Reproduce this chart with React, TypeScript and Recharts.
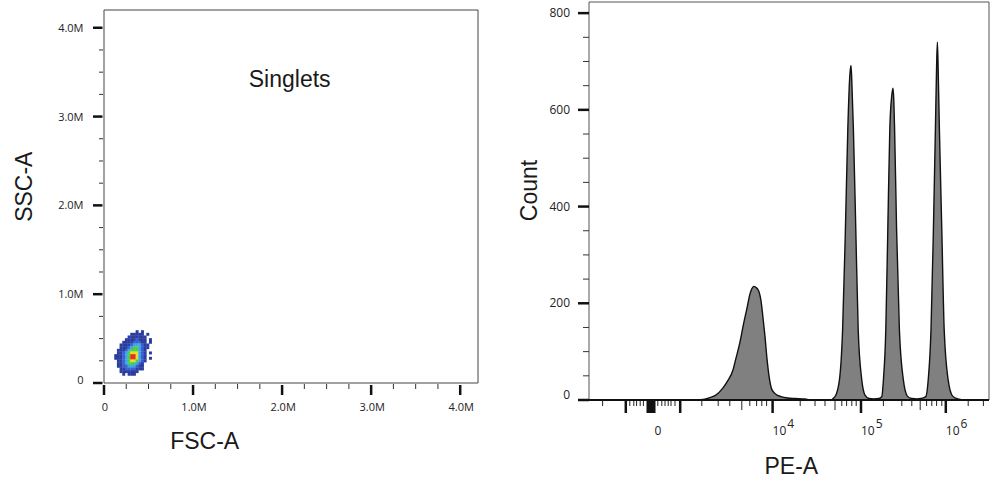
import React from 'react';
import { ScatterChart, Scatter, ComposedChart, Area, XAxis, YAxis, ReferenceArea, ReferenceLine } from 'recharts';

// ---- left panel: Singlets density (FSC-A vs SSC-A), binned every 30k ----
const DENSITY_X0 = 130000;
const DENSITY_Y_TOP = 580000;
const DENSITY_BIN = 30000;
// one string per row (top to bottom), digit = density level, '.' = empty
const DENSITY_ROWS = [
  '........1.1...',
  '......11111.1.',
  '.....1111111..',
  '....11112111.1',
  '...111122211.1',
  '..11112333211.',
  '..11123443211.',
  '.11123444321..',
  '.11234555321.1',
  '111234665321..',
  '111234665321.1',
  '.11234554321..',
  '.1123444321...',
  '.1122333211...',
  '..112222111...',
  '..1111111.....',
  '...1.111......',
];
const DENSITY_COLORS = ['', '#2b3d9e', '#3a5fd0', '#3aa6ea', '#4ccd4c', '#e6dc2a', '#e8301c'];

const SCATTER_MAX = 4200000;
const SCATTER_MAJOR = [0, 1000000, 2000000, 3000000, 4000000];
const SCATTER_LABELS = ['0', '1.0M', '2.0M', '3.0M', '4.0M'];
const SCATTER_MINOR = [
  250000, 500000, 750000, 1250000, 1500000, 1750000,
  2250000, 2500000, 2750000, 3250000, 3500000, 3750000,
];

// ---- right panel: PE-A histogram, display channels 0..1000 ----
const PE_CHANNEL = [
  0, 270, 285, 302, 317, 335, 347, 360, 367, 377, 387, 395, 402, 407, 412, 417,
  424, 430, 435, 440, 445, 450, 457, 467, 480, 497, 515, 540, 552, 602,
  615, 626, 634, 641, 647, 652, 655, 657, 661, 667, 673, 682, 690, 700, 712,
  725, 732, 736, 742, 747, 752, 757, 760, 762, 764, 769, 776, 786, 796, 807, 820,
  830, 842, 848, 855, 861, 866, 869, 871, 873, 876, 882, 888, 898, 909, 922, 940, 1000,
];
const PE_COUNT = [
  0, 0, 1, 5, 10, 25, 40, 62, 85, 118, 160, 190, 218, 230, 235, 233,
  226, 205, 170, 131, 85, 50, 22, 12, 7, 4, 3, 2, 0, 0,
  7, 41, 145, 352, 560, 670, 692, 660, 560, 352, 145, 41, 10, 3, 2,
  3, 7, 41, 145, 352, 560, 630, 645, 620, 560, 352, 145, 41, 8, 3, 2,
  3, 7, 41, 145, 352, 560, 690, 740, 680, 560, 352, 145, 41, 8, 2, 0, 0,
];
const PE_MAX = 1000;
const PE_MAJOR_TICKS = [92, 155, 228, 459, 680, 892];
const PE_TICK_LABELS = ['', '0', '', '10^4', '10^5', '10^6'];
const PE_MID_TICKS = [382, 615, 828];
const PE_MINOR_TICKS = [
  34, 102, 112, 119, 128, 136, 172, 182, 190, 198, 205, 215,
  282, 323, 352, 402, 419, 432, 444,
  528, 565, 590, 632, 644, 657, 668,
  736, 782, 807, 844, 857, 869, 882,
  948, 986,
];

const COUNT_MAX = 823;
const COUNT_MAJOR = [0, 200, 400, 600, 800];
const COUNT_MINOR = [50, 100, 150, 250, 300, 350, 450, 500, 550, 650, 700, 750];

const TICK_FONT = '"Open Sans", "DejaVu Sans", sans-serif';
const TITLE_FONT = '"Liberation Sans", Arial, sans-serif';

// layout
const L_W = 500;
const L_H = 482;
const L_MARGIN = { top: 10, right: 22, bottom: 0, left: 0 };
const L_YAXIS_W = 104;
const L_XAXIS_H = 99;
const L_PLOT_W = L_W - L_MARGIN.left - L_MARGIN.right - L_YAXIS_W;
const L_PLOT_H = L_H - L_MARGIN.top - L_XAXIS_H;

const R_LEFT = 500;
const R_W = 492;
const R_H = 482;
const R_MARGIN = { top: 2, right: 3, bottom: 0, left: 0 };
const R_YAXIS_W = 89;
const R_XAXIS_H = 82;

const cellW = (DENSITY_BIN / SCATTER_MAX) * L_PLOT_W;
const cellH = (DENSITY_BIN / SCATTER_MAX) * L_PLOT_H;

const densityPoints = DENSITY_ROWS.flatMap((row, r) =>
  row.split('').map((ch, c) => ({
    x: DENSITY_X0 + c * DENSITY_BIN,
    y: DENSITY_Y_TOP - r * DENSITY_BIN,
    level: ch === '.' ? 0 : Number(ch),
  }))
).filter((p) => p.level > 0);

const histData = PE_CHANNEL.map((channel, i) => ({ channel, count: PE_COUNT[i] }));

const DensityCell = (props: any) => {
  const { cx, cy, payload } = props;
  return (
    <rect
      x={cx - cellW / 2}
      y={cy - cellH / 2}
      width={cellW + 0.3}
      height={cellH + 0.3}
      fill={DENSITY_COLORS[payload.level]}
    />
  );
};

const ScatterXTick = (props: any) => {
  const { x, y, payload } = props;
  const i = SCATTER_MAJOR.indexOf(payload.value);
  if (i < 0) return <line x1={x} x2={x} y1={y + 1} y2={y + 6} stroke="#333" strokeWidth={1} />;
  return (
    <g>
      <line x1={x} x2={x} y1={y + 2} y2={y + 12} stroke="#111" strokeWidth={2.5} />
      <text x={x + 1} y={y + 28} textAnchor="middle" fontSize={11} fontFamily={TICK_FONT} fill="#222">
        {SCATTER_LABELS[i]}
      </text>
    </g>
  );
};

const ScatterYTick = (props: any) => {
  const { x, y, payload } = props;
  const i = SCATTER_MAJOR.indexOf(payload.value);
  if (i < 0) return <line x1={x - 5} x2={x - 1} y1={y} y2={y} stroke="#333" strokeWidth={1} />;
  return (
    <g>
      <line x1={x - 11} x2={x - 1.5} y1={y} y2={y} stroke="#111" strokeWidth={2.5} />
      <text x={x - 20.5} y={y + (i === 0 ? 1 : 4)} textAnchor="end" fontSize={11} fontFamily={TICK_FONT} fill="#222">
        {SCATTER_LABELS[i]}
      </text>
    </g>
  );
};

const PeXTick = (props: any) => {
  const { x, y, payload } = props;
  const v = payload.value;
  const i = PE_MAJOR_TICKS.indexOf(v);
  if (i < 0) {
    const len = PE_MID_TICKS.includes(v) ? 9 : 5;
    return <line x1={x} x2={x} y1={y + 1} y2={y + 1 + len} stroke="#222" strokeWidth={1} />;
  }
  const label = PE_TICK_LABELS[i];
  return (
    <g>
      {label === '0' ? (
        <rect x={x - 4.5} y={y + 1} width={9} height={12} fill="#111" />
      ) : (
        <line x1={x} x2={x} y1={y + 1} y2={y + 13} stroke="#111" strokeWidth={2.5} />
      )}
      {label === '0' && (
        <text x={x + 7} y={y + 35} textAnchor="middle" fontSize={12} fontFamily={TICK_FONT} fill="#222">0</text>
      )}
      {label.startsWith('10^') && (
        <text x={x} y={y + 35} textAnchor="start" fontSize={12} fontFamily={TICK_FONT} fill="#222">
          10
          <tspan dx={1} dy={-7}>{label.split('^')[1]}</tspan>
        </text>
      )}
    </g>
  );
};

const CountYTick = (props: any) => {
  const { x, y, payload } = props;
  const i = COUNT_MAJOR.indexOf(payload.value);
  if (i < 0) return <line x1={x - 6} x2={x} y1={y} y2={y} stroke="#333" strokeWidth={1} />;
  return (
    <g>
      <line x1={x - 11} x2={x} y1={y} y2={y} stroke="#111" strokeWidth={2.5} />
      <text x={x - 19} y={y + (i === 0 ? -1 : 4)} textAnchor="end" fontSize={12} fontFamily={TICK_FONT} fill="#222">
        {COUNT_MAJOR[i]}
      </text>
    </g>
  );
};

const titleStyle = { fontSize: 23, fontFamily: TITLE_FONT, fill: '#1a1a1a' };

export default function App() {
  const scatterXTicks = [...SCATTER_MAJOR, ...SCATTER_MINOR].sort((a, b) => a - b);
  const peTicks = [...PE_MAJOR_TICKS, ...PE_MID_TICKS, ...PE_MINOR_TICKS].sort((a, b) => a - b);
  const countTicks = [...COUNT_MAJOR, ...COUNT_MINOR].sort((a, b) => a - b);

  return (
    <div style={{ position: 'absolute', left: 0, top: 0, width: 992, height: 482, background: '#fff' }}>
      <div style={{ position: 'absolute', left: 0, top: 0 }}>
        <ScatterChart width={L_W} height={L_H} margin={L_MARGIN}>
          <XAxis
            type="number"
            dataKey="x"
            domain={[0, SCATTER_MAX]}
            ticks={scatterXTicks}
            interval={0}
            tickSize={0}
            tickMargin={0}
            tickLine={false}
            axisLine={false}
            height={L_XAXIS_H}
            tick={<ScatterXTick />}
            allowDataOverflow
            label={() => (
              <text x={204.7} y={449.3} textAnchor="middle" style={titleStyle}>FSC-A</text>
            )}
          />
          <YAxis
            type="number"
            dataKey="y"
            domain={[0, SCATTER_MAX]}
            ticks={scatterXTicks}
            interval={0}
            tickSize={0}
            tickMargin={0}
            tickLine={false}
            axisLine={false}
            width={L_YAXIS_W}
            tick={<ScatterYTick />}
            allowDataOverflow
            label={() => (
              <text x={31.7} y={186.7} textAnchor="middle" transform="rotate(-90 31.7 186.7)" style={titleStyle}>SSC-A</text>
            )}
          />
          <ReferenceArea
            x1={0}
            x2={SCATTER_MAX}
            y1={0}
            y2={SCATTER_MAX}
            fill="none"
            stroke="#444"
            strokeWidth={1}
            label={() => (
              <text x={289.7} y={87} textAnchor="middle" style={titleStyle}>Singlets</text>
            )}
          />
          <Scatter data={densityPoints} shape={DensityCell} isAnimationActive={false} />
        </ScatterChart>
      </div>

      <div style={{ position: 'absolute', left: R_LEFT, top: 0 }}>
        <ComposedChart width={R_W} height={R_H} margin={R_MARGIN} data={histData}>
          <XAxis
            type="number"
            dataKey="channel"
            domain={[0, PE_MAX]}
            ticks={peTicks}
            interval={0}
            tickSize={0}
            tickMargin={0}
            tickLine={false}
            axisLine={false}
            height={R_XAXIS_H}
            tick={<PeXTick />}
            allowDataOverflow
            label={() => (
              <text x={291.3} y={474} textAnchor="middle" style={titleStyle}>PE-A</text>
            )}
          />
          <YAxis
            type="number"
            domain={[0, COUNT_MAX]}
            ticks={countTicks}
            interval={0}
            tickSize={0}
            tickMargin={0}
            tickLine={false}
            axisLine={false}
            width={R_YAXIS_W}
            tick={<CountYTick />}
            allowDataOverflow
            label={() => (
              <text x={36.7} y={190.5} textAnchor="middle" transform="rotate(-90 36.7 190.5)" style={titleStyle}>Count</text>
            )}
          />
          <ReferenceArea x1={0} x2={PE_MAX} y1={0} y2={COUNT_MAX} fill="none" stroke="#555" strokeWidth={1} />
          <Area
            type="monotone"
            dataKey="count"
            stroke="#111"
            strokeWidth={1.4}
            fill="#808080"
            fillOpacity={1}
            dot={false}
            activeDot={false}
            isAnimationActive={false}
          />
          <ReferenceLine y={0} stroke="#111" strokeWidth={2} />
        </ComposedChart>
      </div>
    </div>
  );
}
